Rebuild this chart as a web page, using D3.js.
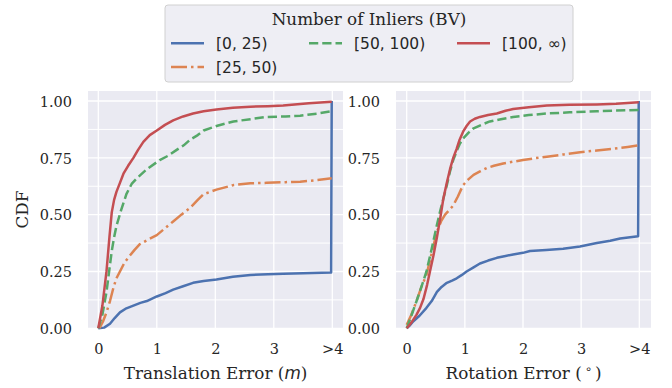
<!DOCTYPE html>
<html><head><meta charset="utf-8">
<script src="https://cdn.jsdelivr.net/npm/d3@7"></script>
<style>body{margin:0;background:#fff}svg{display:block}</style>
</head><body><svg id="c" width="672" height="388"></svg>
<script>
// ---- data ----
const xTicks = [0, 1, 2, 3, 4];
const xTickLabels = ["0", "1", "2", "3", ">4"];
const yTicks = [0, 0.25, 0.5, 0.75, 1.0];
const yMinorTicks = [0.125, 0.375, 0.625, 0.875];
const seriesNames = ["[0, 25)", "[25, 50)", "[50, 100)", "[100, \u221E)"];
const seriesColors = ["#4C72B0", "#DD8452", "#55A868", "#C44E52"];
const seriesDash = ["", "16,4,2.5,4", "9.25,4", ""];

// Translation error CDF
const transBlue = [[0,0],[0.1,0.003],[0.2,0.02],[0.28,0.045],[0.37,0.07],[0.48,0.088],[0.6,0.10],[0.72,0.112],[0.83,0.12],[1.0,0.14],[1.15,0.155],[1.28,0.17],[1.45,0.185],[1.62,0.20],[1.8,0.208],[2.02,0.215],[2.3,0.227],[2.6,0.235],[2.9,0.238],[3.16,0.24],[3.5,0.242],[3.98,0.245],[3.99,1.0]];
const transOrange = [[0.02,0],[0.08,0.03],[0.14,0.07],[0.2,0.12],[0.26,0.18],[0.31,0.22],[0.37,0.25],[0.45,0.29],[0.54,0.32],[0.62,0.345],[0.71,0.37],[0.85,0.39],[1.0,0.41],[1.14,0.44],[1.28,0.47],[1.42,0.50],[1.57,0.53],[1.7,0.565],[1.8,0.59],[2.02,0.61],[2.31,0.63],[2.6,0.638],[2.88,0.64],[3.2,0.643],[3.45,0.645],[3.75,0.652],[3.99,0.66]];
const transGreen = [[0,0],[0.07,0.06],[0.14,0.16],[0.19,0.26],[0.23,0.34],[0.27,0.40],[0.31,0.45],[0.39,0.52],[0.48,0.59],[0.57,0.635],[0.66,0.66],[0.83,0.70],[1.05,0.74],[1.2,0.76],[1.34,0.785],[1.46,0.805],[1.57,0.83],[1.7,0.85],[1.8,0.87],[2.02,0.89],[2.31,0.91],[2.6,0.92],[2.88,0.93],[3.2,0.932],[3.45,0.935],[3.75,0.945],[3.99,0.955]];
const transRed = [[0,0],[0.07,0.1],[0.14,0.25],[0.19,0.40],[0.23,0.51],[0.27,0.565],[0.31,0.60],[0.37,0.64],[0.43,0.68],[0.51,0.715],[0.6,0.75],[0.68,0.785],[0.77,0.82],[0.88,0.85],[1.0,0.87],[1.14,0.895],[1.28,0.915],[1.45,0.932],[1.62,0.945],[1.8,0.955],[2.02,0.963],[2.3,0.97],[2.6,0.975],[2.9,0.977],[3.16,0.98],[3.6,0.99],[3.99,0.997]];

// Rotation error CDF
const rotBlue = [[0,0],[0.05,0.012],[0.11,0.03],[0.22,0.055],[0.34,0.09],[0.43,0.12],[0.52,0.16],[0.6,0.182],[0.69,0.20],[0.78,0.21],[0.86,0.22],[0.95,0.235],[1.03,0.25],[1.15,0.268],[1.26,0.285],[1.4,0.298],[1.55,0.31],[1.7,0.318],[1.83,0.325],[2.0,0.332],[2.12,0.34],[2.4,0.345],[2.69,0.35],[2.98,0.36],[3.27,0.375],[3.5,0.385],[3.67,0.395],[3.98,0.405],[3.99,1.0]];
const rotOrange = [[0,0.015],[0.08,0.06],[0.17,0.12],[0.25,0.18],[0.34,0.235],[0.43,0.33],[0.52,0.425],[0.59,0.47],[0.66,0.50],[0.73,0.52],[0.8,0.54],[0.88,0.58],[0.97,0.63],[1.06,0.655],[1.15,0.675],[1.26,0.69],[1.375,0.705],[1.5,0.715],[1.66,0.725],[1.83,0.733],[2.0,0.74],[2.2,0.748],[2.41,0.755],[2.7,0.765],[2.98,0.775],[3.27,0.782],[3.55,0.79],[3.8,0.798],[3.99,0.805]];
const rotGreen = [[0,0],[0.08,0.055],[0.17,0.12],[0.25,0.18],[0.34,0.25],[0.43,0.35],[0.52,0.455],[0.58,0.52],[0.63,0.57],[0.69,0.63],[0.745,0.69],[0.8,0.74],[0.86,0.78],[0.91,0.81],[0.97,0.835],[1.06,0.86],[1.15,0.88],[1.3,0.897],[1.43,0.91],[1.62,0.92],[1.83,0.93],[2.1,0.938],[2.41,0.945],[2.8,0.95],[3.27,0.955],[3.6,0.958],[3.99,0.96]];
const rotRed = [[0,0],[0.08,0.025],[0.17,0.06],[0.23,0.09],[0.29,0.13],[0.35,0.19],[0.4,0.25],[0.46,0.32],[0.52,0.40],[0.58,0.49],[0.63,0.57],[0.69,0.64],[0.745,0.70],[0.8,0.75],[0.86,0.79],[0.91,0.83],[0.97,0.865],[1.03,0.89],[1.09,0.91],[1.17,0.922],[1.26,0.93],[1.4,0.938],[1.55,0.945],[1.7,0.957],[1.83,0.965],[2.1,0.973],[2.41,0.98],[2.8,0.983],[3.27,0.985],[3.6,0.988],[3.99,0.994]];

const panels = [
  {label: "Translation Error (", italic: "m", tail: ")", series: [transBlue, transOrange, transGreen, transRed], bx0: 88, bx1: 343, x0: 98.3, x1: 332.3, showYLabel: true},
  {label: "Rotation Error (", sup: "\u2218", tail: ")", series: [rotBlue, rotOrange, rotGreen, rotRed], bx0: 396, bx1: 651, x0: 406.7, x1: 639.3, showYLabel: false}
];

const svg = d3.select("#c");
const serif = "'DejaVu Serif', serif";
const sans = "'DejaVu Sans', sans-serif";
const bgTop = 91, bgBot = 328.3;
const y = d3.scaleLinear().domain([0, 1]).range([bgBot, 101]);

panels.forEach(p => {
  const x = d3.scaleLinear().domain([0, 4]).range([p.x0, p.x1]);
  const g = svg.append("g");
  g.append("rect").attr("x", p.bx0).attr("y", bgTop).attr("width", p.bx1 - p.bx0).attr("height", bgBot - bgTop).attr("fill", "#EAEAF2");
  // grid
  yMinorTicks.forEach(t => g.append("line").attr("x1", p.bx0).attr("x2", p.bx1).attr("y1", y(t)).attr("y2", y(t)).attr("stroke", "#fff").attr("stroke-width", 1));
  yTicks.forEach(t => g.append("line").attr("x1", p.bx0).attr("x2", p.bx1).attr("y1", y(t)).attr("y2", y(t)).attr("stroke", "#fff").attr("stroke-width", 1.3));
  xTicks.forEach(t => g.append("line").attr("x1", x(t)).attr("x2", x(t)).attr("y1", bgTop).attr("y2", bgBot).attr("stroke", "#fff").attr("stroke-width", 1.3));
  // axes labels
  const xAxis = d3.axisBottom(x).tickValues(xTicks).tickFormat((d, i) => xTickLabels[i]).tickSize(0).tickPadding(0);
  const xa = g.append("g").attr("transform", `translate(0,${bgBot})`).call(xAxis);
  xa.select(".domain").remove();
  xa.selectAll("text").attr("dy", null).attr("y", 26).attr("font-family", serif).attr("font-size", 14.5).attr("fill", "#262626");
  const yAxis = d3.axisLeft(y).tickValues(yTicks).tickFormat(d3.format(".2f")).tickSize(0).tickPadding(0);
  const ya = g.append("g").attr("transform", `translate(${p.bx0 - 16},0)`).call(yAxis);
  ya.select(".domain").remove();
  ya.selectAll("text").attr("dy", "0.36em").attr("x", 0).attr("font-family", serif).attr("font-size", 14.5).attr("fill", "#262626");

  // lines
  const line = d3.line().x(d => x(d[0])).y(d => y(d[1])).curve(d3.curveLinear);
  p.series.forEach((s, i) => {
    g.append("path").attr("d", line(s)).attr("fill", "none").attr("stroke", seriesColors[i]).attr("stroke-width", 2.5)
      .attr("stroke-dasharray", seriesDash[i] || null).attr("stroke-linejoin", "round");
  });

  // x label
  const t = g.append("text").attr("x", (p.bx0 + p.bx1) / 2).attr("y", 379).attr("text-anchor", "middle")
    .attr("font-family", serif).attr("font-size", 16.8).attr("fill", "#262626");
  t.append("tspan").text(p.label);
  if (p.italic) t.append("tspan").attr("font-family", sans).attr("font-style", "italic").text(p.italic);
  if (p.sup) { t.append("tspan").attr("font-family", sans).attr("font-size", 11.5).attr("dy", -6).attr("dx", 3).text(p.sup); t.append("tspan").attr("dy", 6).attr("dx", 3).text(p.tail); }
  else t.append("tspan").text(p.tail);

  if (p.showYLabel) {
    svg.append("text").attr("transform", `translate(28,${(bgTop + bgBot) / 2}) rotate(-90)`).attr("text-anchor", "middle")
      .attr("font-family", serif).attr("font-size", 16.8).attr("fill", "#262626").text("CDF");
  }
});

// legend
const lg = svg.append("g");
lg.append("rect").attr("x", 165).attr("y", 5).attr("width", 408).attr("height", 77).attr("rx", 3)
  .attr("fill", "#EEEEF4").attr("stroke", "#D0D0D0").attr("stroke-width", 1);
lg.append("text").attr("x", 369).attr("y", 25).attr("text-anchor", "middle").attr("font-family", serif)
  .attr("font-size", 16.8).attr("fill", "#262626").text("Number of Inliers (BV)");
const legPos = [[171, 43.3], [171, 67], [309, 43.3], [457, 43.3]];
seriesNames.forEach((n, i) => {
  const [lx, ly] = legPos[i];
  lg.append("line").attr("x1", lx).attr("x2", lx + 33).attr("y1", ly).attr("y2", ly).attr("stroke", seriesColors[i])
    .attr("stroke-width", 2.5).attr("stroke-dasharray", seriesDash[i] || null);
  lg.append("text").attr("x", lx + 45).attr("y", ly).attr("dy", "0.36em").attr("font-family", sans).attr("font-size", 15.5)
    .attr("fill", "#262626").text(n);
});
</script></body></html>
